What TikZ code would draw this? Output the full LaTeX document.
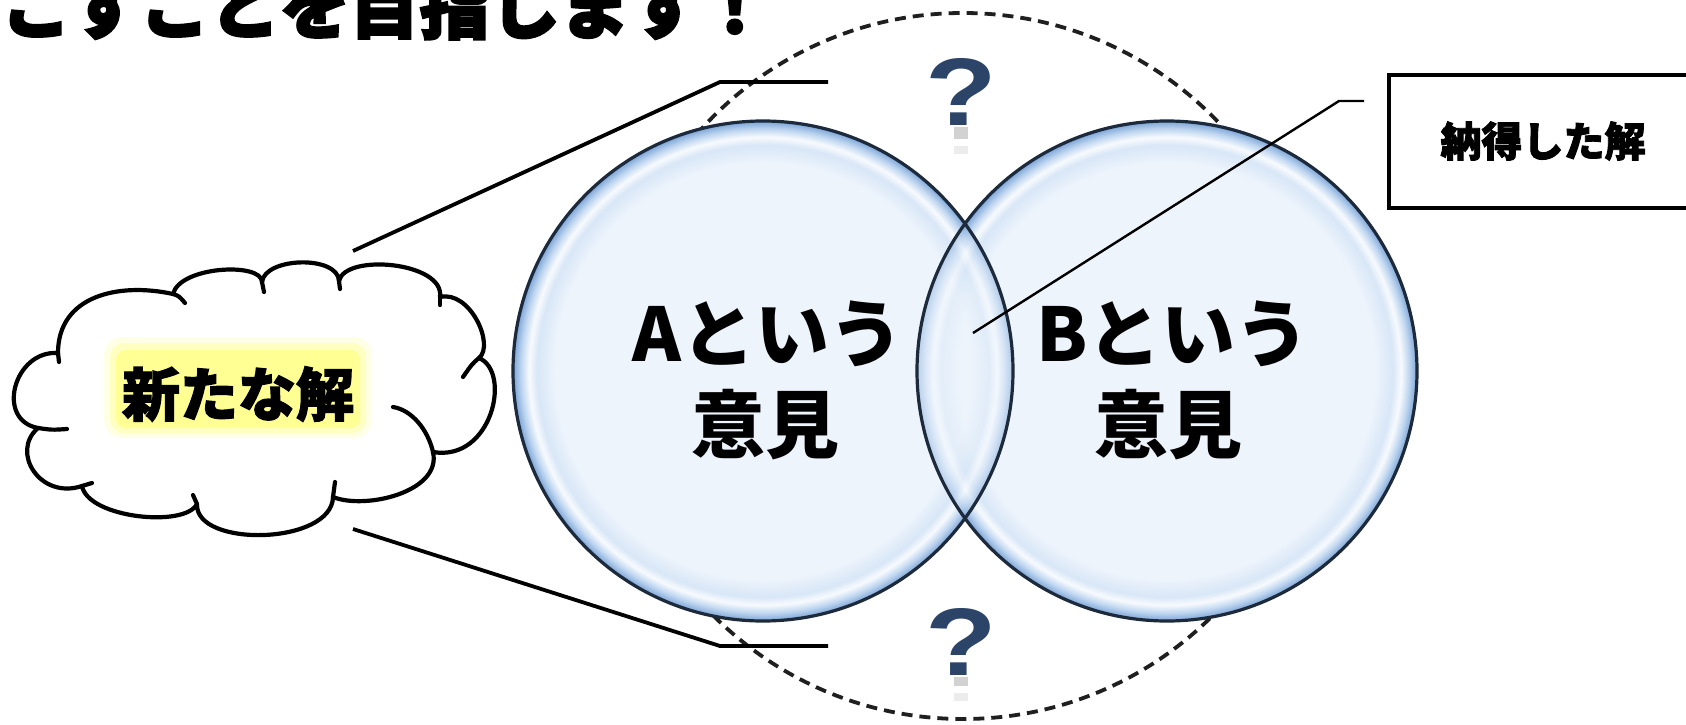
\documentclass[tikz,border=0pt]{standalone}
\usepackage{fontspec}
\newfontfamily\jp{Noto Sans CJK JP}
\newfontfamily\jpheavy{Noto Sans CJK JP}[BoldFeatures={FakeBold=3.5}]
\newfontfamily\jpmed{Noto Sans CJK JP}[BoldFeatures={FakeBold=2.2}]
\newfontfamily\lsans{Liberation Sans}
\definecolor{bubin}{HTML}{EDF4FC}
\definecolor{bubmid}{HTML}{BFD6F0}
\definecolor{bubedge}{HTML}{7AA3D6}
\definecolor{bubline}{HTML}{1C2A3B}
\definecolor{qcol}{HTML}{2B4468}
\definecolor{glowc}{HTML}{FFFF70}
\pgfdeclareradialshading{bubshade}{\pgfpoint{0bp}{0bp}}{color(0bp)=(bubin); color(20.8bp)=(bubin); color(22.6bp)=(bubmid!45!bubin); color(23.4bp)=(white!60!bubin); color(24.2bp)=(bubmid); color(25bp)=(bubedge); color(50bp)=(bubedge)}
\tikzset{
  bub/.style={circle, minimum size=500pt, inner sep=0pt, shading=bubshade},
  bubrim/.style={draw=bubline, line width=3.2pt},
  dashcirc/.style={circle, draw=black!88, line width=3.8pt, dash pattern=on 11pt off 7pt, minimum size=706pt, inner sep=0pt},
  bigtxt/.style={font=\jp\bfseries\fontsize{74}{80}\selectfont, inner sep=0pt},
  cloudtxt/.style={font=\jpmed\bfseries\fontsize{58}{66}\selectfont, inner sep=0pt},
  labeltxt/.style={font=\jpmed\bfseries\fontsize{41}{48}\selectfont, inner sep=0pt},
  titletxt/.style={font=\jpheavy\bfseries\fontsize{70}{76}\selectfont, inner sep=0pt},
  qmark/.style={font=\lsans\bfseries\fontsize{96}{96}\selectfont, text=qcol, inner sep=0pt, xscale=1.22, transform shape},
  lead/.style={line width=3.8pt, black},
  callout/.style={line width=2.4pt, black},
  labelbox/.style={draw, line width=3.5pt, minimum width=340pt, minimum height=133pt, inner sep=0pt},
  cloudline/.style={draw=black, line width=4.2pt, line join=round, line cap=round}
}
\begin{document}
\begin{tikzpicture}[x=1pt,y=-1pt]
\useasboundingbox (0,0) rectangle (1686,725);
\clip (0,0) rectangle (1686,725);
\fill[white] (0,0) rectangle (1686,725);

% title (cut by the top edge)
\node[titletxt, anchor=base east] (title) at (770,33) {こすことを目指します！};

% dashed outer circle
\node[dashcirc] (outer) at (963,366) {};

% bubbles
\node[bub] (A) at (763,371) {};
\node[bub] (B) at (1167,371) {};
\begin{scope}
  \clip (B.center) circle[radius=250pt];
  \shade[shading=bubshade, fill opacity=0.55] (A.center) circle[radius=250pt];
\end{scope}
\draw[bubrim] (A.center) circle[radius=250pt];
\draw[bubrim] (B.center) circle[radius=250pt];

\node[bigtxt] (A1) at (768,334) {Aという};
\node[bigtxt] (A2) at (765,425) {意見};
\node[bigtxt] (B1) at (1173,334) {Bという};
\node[bigtxt] (B2) at (1168,425) {意見};

% question marks with faint reflections
\node[qmark, anchor=base] (q1) at (961,125) {?};
\fill[gray, opacity=.35] (954,127) rectangle (968,139);
\fill[gray, opacity=.15] (954,146) rectangle (968,154);
\node[qmark, anchor=base] (q2) at (961,675) {?};
\fill[gray, opacity=.35] (954,677) rectangle (968,686);
\fill[gray, opacity=.15] (954,693) rectangle (968,701);

% leader lines from the cloud
\coordinate (u1) at (353,251); \coordinate (u2) at (720,82); \coordinate (u3) at (828,82);
\coordinate (l1) at (353,529); \coordinate (l2) at (720,646); \coordinate (l3) at (828,646);
\draw[lead] (u1) -- (u2) -- (u3);
\draw[lead] (l1) -- (l2) -- (l3);

% cloud (puffs)
\coordinate (J1) at (58,353);  \coordinate (J2) at (173,294); \coordinate (J3) at (262,282);
\coordinate (J4) at (339,281); \coordinate (J5) at (440,297); \coordinate (J6) at (479,358);
\coordinate (J7) at (433,452); \coordinate (J8) at (333,497); \coordinate (J9) at (197,504);
\coordinate (J10) at (82,486); \coordinate (J11) at (38,428);
\path[cloudline, fill=white] (J1)
  .. controls (58,296) and (118,282) .. (J2)
  .. controls (180,266) and (262,262) .. (J3)
  .. controls (265,257) and (338,255) .. (J4)
  .. controls (345,253) and (445,262) .. (J5)
  .. controls (470,290) and (495,345) .. (J6)
  .. controls (512,372) and (492,462) .. (J7)
  .. controls (442,492) and (365,510) .. (J8)
  .. controls (332,545) and (195,548) .. (J9)
  .. controls (185,528) and (88,518) .. (J10)
  .. controls (40,500) and (10,452) .. (J11)
  .. controls (-5,420) and (14,350) .. (J1) -- cycle;
\coordinate (s1) at (59,362); \coordinate (s2) at (185,303); \coordinate (s3) at (264,292);
\coordinate (s4) at (340,289); \coordinate (s5) at (440,305); \coordinate (s6) at (463,377);
\coordinate (s7) at (393,407); \coordinate (s8) at (335,482); \coordinate (s9) at (193,495);
\coordinate (s10) at (92,483); \coordinate (s11) at (67,429);
\draw[cloudline] (J1) -- (s1);
\draw[cloudline] (J2) .. controls (179,296) .. (s2);
\draw[cloudline] (J3) -- (s3);
\draw[cloudline] (J4) -- (s4);
\draw[cloudline] (J5) -- (s5);
\draw[cloudline] (J6) .. controls (472,364) .. (s6);
\draw[cloudline] (J7) .. controls (428,430) and (412,410) .. (s7);
\draw[cloudline] (J8) -- (s8);
\draw[cloudline] (J9) -- (s9);
\draw[cloudline] (J10) -- (s10);
\draw[cloudline] (J11) .. controls (52,430) .. (s11);
\coordinate (cloud) at (256,398);
\fill[glowc, opacity=.18, rounded corners=18pt] (104,337) rectangle (372,438);
\fill[glowc, opacity=.3, rounded corners=14pt] (110,343) rectangle (366,433);
\fill[glowc, opacity=.55, rounded corners=10pt] (116,350) rectangle (360,428);
\node[cloudtxt] (newsol) at (238,394) {新たな解};

% callout to the overlap
\coordinate (lens) at (973,333); \coordinate (c1) at (1339,101); \coordinate (c2) at (1364,101);
\draw[callout] (lens) -- (c1) -- (c2);
\node[labelbox] (box) at (1559,141.5) {};
\node[labeltxt] (boxtxt) at (1543,141) {納得した解};
\end{tikzpicture}
\end{document}
